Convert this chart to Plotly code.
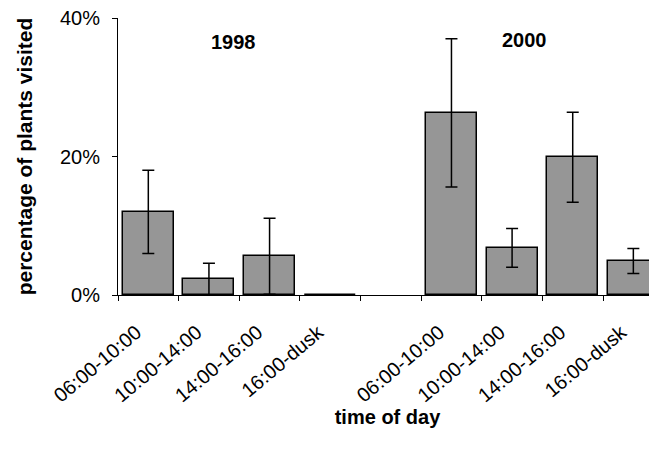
import plotly.graph_objects as go

# ---- data ----
time_slots = ["06:00-10:00", "10:00-14:00", "14:00-16:00", "16:00-dusk"]
years = ["1998", "2000"]
pct_1998 = [12.0, 2.3, 5.6, 0.0]
err_1998 = [6.0, 2.3, 5.5, 0.0]
pct_2000 = [26.3, 6.8, 19.9, 4.9]
err_2000 = [10.7, 2.8, 6.5, 1.8]
y_ticks = [0, 20, 40]
y_tick_text = ["0%", "20%", "40%"]

# build category axis: 4 slots for 1998, an empty slot, 4 slots for 2000
x_cats = [f"{years[0]} {t}" for t in time_slots] + ["gap"] + [f"{years[1]} {t}" for t in time_slots]
x_text = time_slots + [""] + time_slots
y_vals = pct_1998 + [None] + pct_2000
e_vals = err_1998 + [None] + err_2000

FONT = "Arial, 'Liberation Sans', sans-serif"

fig = go.Figure()
fig.add_trace(go.Bar(
    x=x_cats, y=y_vals, width=0.84,
    marker=dict(color="#969696", line=dict(color="black", width=1.5)),
    error_y=dict(type="data", array=e_vals, visible=True,
                 color="black", thickness=1.5, width=6),
    showlegend=False,
))

fig.add_annotation(x=1.4, y=36.6, xref="x", yref="y", text="<b>1998</b>",
                   showarrow=False, font=dict(size=20, family=FONT, color="black"))
fig.add_annotation(x=6.2, y=36.8, xref="x", yref="y", text="<b>2000</b>",
                   showarrow=False, font=dict(size=20, family=FONT, color="black"))

# the page body has an 8px margin, so the figure is sized/offset to compensate
fig.update_layout(
    width=649, height=442,
    margin=dict(l=110, r=0, t=10, b=155),
    plot_bgcolor="white", paper_bgcolor="white",
    font=dict(family=FONT, size=20, color="black"),
    bargap=0,
    xaxis=dict(
        type="category", categoryorder="array", categoryarray=x_cats,
        tickmode="array", tickvals=x_cats, ticktext=x_text,
        tickson="boundaries", ticks="outside", ticklen=5, tickcolor="black",
        tickangle=-40, tickfont=dict(size=20, family=FONT),
        ticklabelstandoff=17, ticklabelshift=-12,
        showline=True, linecolor="black", linewidth=1,
        showgrid=False, zeroline=False,
        range=[-0.5, 8.39],
        title=dict(text="<b>time of day</b>", font=dict(size=20, family=FONT), standoff=0),
    ),
    yaxis=dict(
        range=[0, 40], tickmode="array", tickvals=y_ticks, ticktext=y_tick_text,
        ticks="outside", ticklen=5, tickcolor="black",
        tickfont=dict(size=20, family=FONT), ticklabelstandoff=8,
        ticklabeloverflow="allow",
        showline=True, linecolor="black", linewidth=1,
        showgrid=False, zeroline=False,
        title=dict(text="<b>percentage of plants visited</b>", font=dict(size=21, family=FONT), standoff=21),
    ),
)

fig.write_html("out.html")
